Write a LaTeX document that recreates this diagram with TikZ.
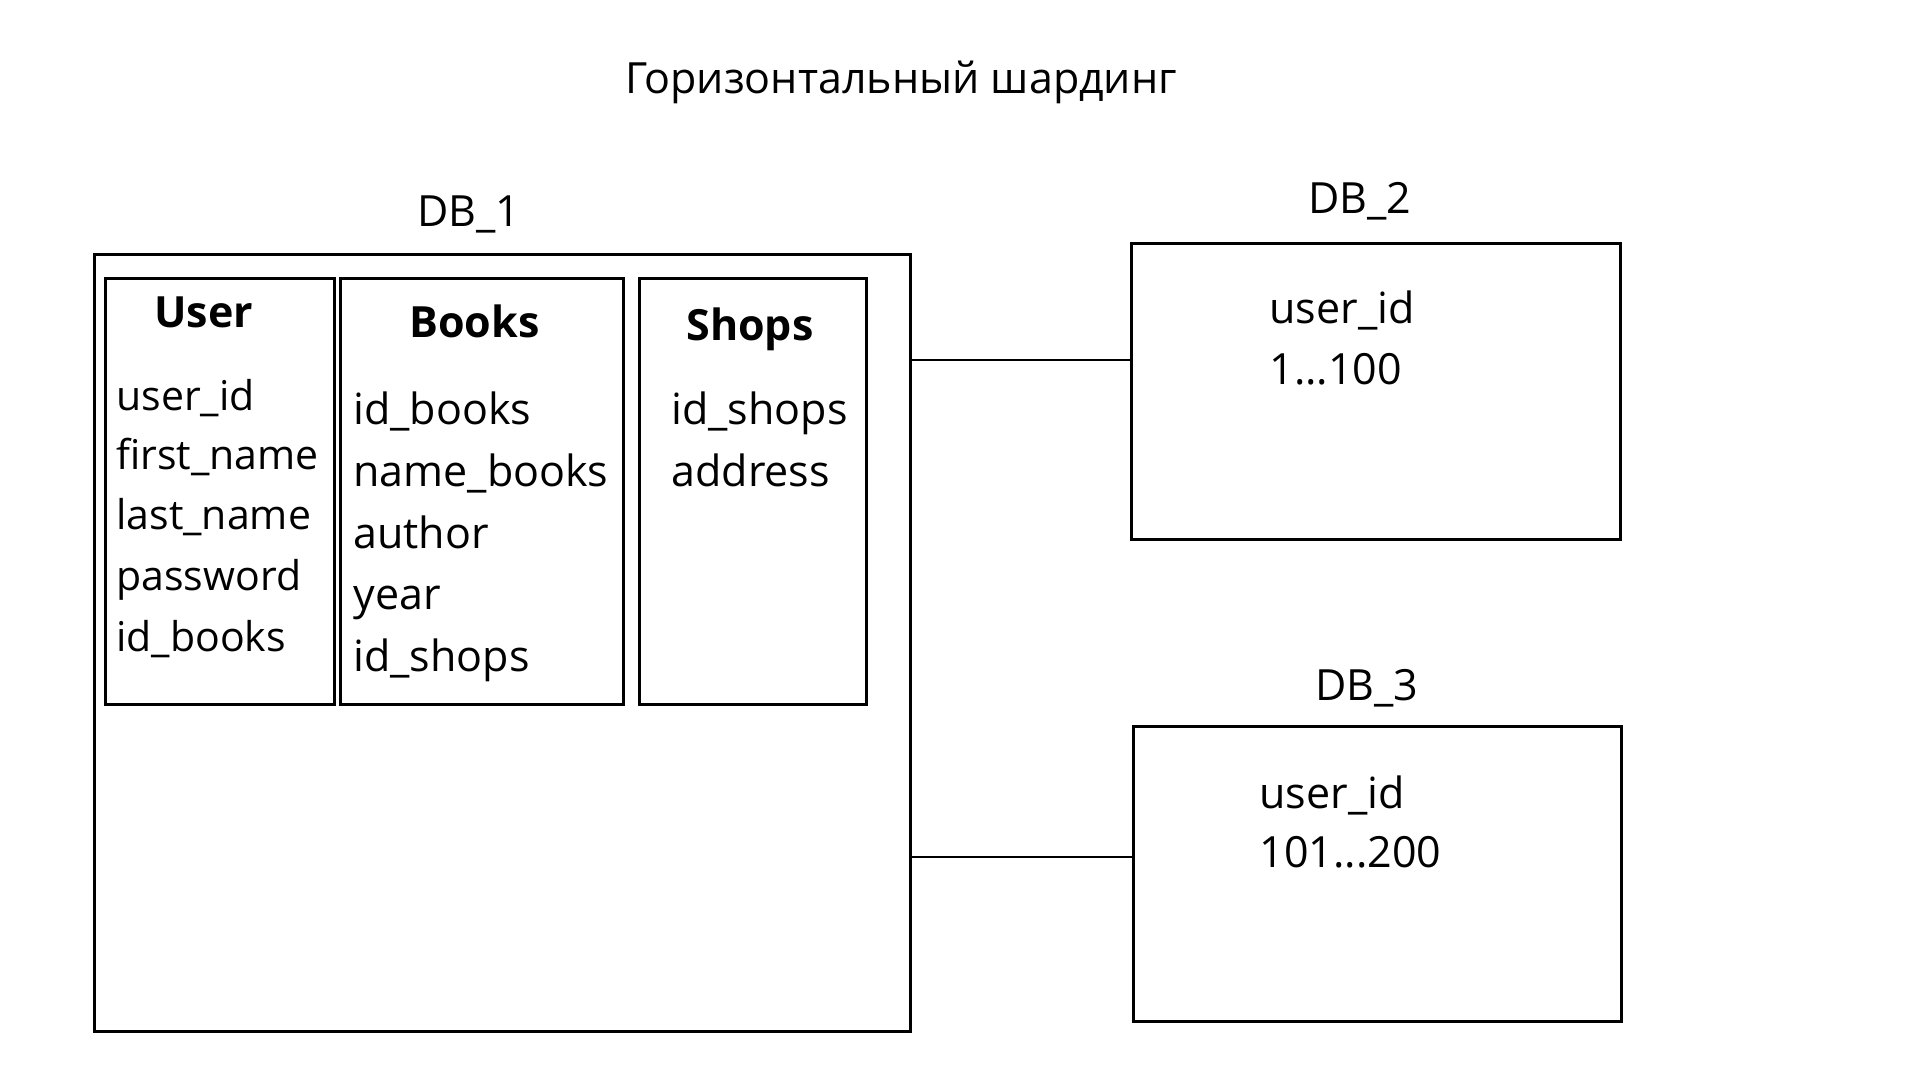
\documentclass[tikz,border=0pt]{standalone}
\usepackage{fontspec}
\setmainfont{Open Sans}
\begin{document}
\begin{tikzpicture}[x=0.5pt,y=-0.5pt,
  box/.style={draw, line width=1.5pt, inner sep=0, outer sep=0, anchor=north west},
  txt/.style={anchor=base west, inner sep=0, font=\fontsize{21.5}{26}\selectfont},
  utxt/.style={anchor=base west, inner sep=0, font=\fontsize{20.5}{26}\selectfont},
  hdr/.style={anchor=base west, inner sep=0, font=\fontsize{21.5}{26}\selectfont\bfseries},
  lbl/.style={anchor=base, inner sep=0, font=\fontsize{21.5}{26}\selectfont},
  conn/.style={line width=1.4pt}]
\useasboundingbox[fill=white] (0,0) rectangle (1920,1080);

\node[lbl] (title) at (901,94) {Горизонтальный шардинг};

% DB_1
\node[lbl] (db1lbl) at (469,227) {DB\_1};
\node[box, minimum width=408pt, minimum height=388pt] (db1) at (94,255) {};
\node[box, minimum width=114.5pt, minimum height=212.5pt] (user) at (105,279) {};
\node[box, minimum width=141.5pt, minimum height=212.5pt] (books) at (340,279) {};
\node[box, minimum width=113.5pt, minimum height=212.5pt] (shops) at (639,279) {};

\node[hdr] (userh) at (154,328) {User};
\node[utxt] (u1) at (116,410) {user\_id};
\node[utxt] (u2) at (116,469) {first\_name};
\node[utxt] (u3) at (116,529) {last\_name};
\node[utxt] (u4) at (116,590) {password};
\node[utxt] (u5) at (116,651) {id\_books};

\node[hdr] (booksh) at (409,337) {Books};
\node[txt] (b1) at (353,424) {id\_books};
\node[txt] (b2) at (353,486) {name\_books};
\node[txt] (b3) at (353,548) {author};
\node[txt] (b4) at (353,609) {year};
\node[txt] (b5) at (353,671) {id\_shops};

\node[hdr] (shopsh) at (686,341) {Shops};
\node[txt] (s1) at (671,424) {id\_shops};
\node[txt] (s2) at (671,486) {address};

% DB_2
\node[lbl] (db2lbl) at (1360,214) {DB\_2};
\node[box, minimum width=244.5pt, minimum height=147.5pt] (db2) at (1131,244) {};
\node[txt] (d21) at (1269,324) {user\_id};
\node[txt] (d22) at (1269,385) {1...100};

% DB_3
\node[lbl] (db3lbl) at (1367,700) {DB\_3};
\node[box, minimum width=244pt, minimum height=147.5pt] (db3) at (1133,726) {};
\node[txt] (d31) at (1259,808) {user\_id};
\node[txt] (d32) at (1259,867) {101...200};

% connectors
\coordinate (y1) at (0,360);
\coordinate (y2) at (0,857);
\draw[conn] (db1.east |- y1) -- (db2.west |- y1);
\draw[conn] (db1.east |- y2) -- (db3.west |- y2);
\end{tikzpicture}
\end{document}
